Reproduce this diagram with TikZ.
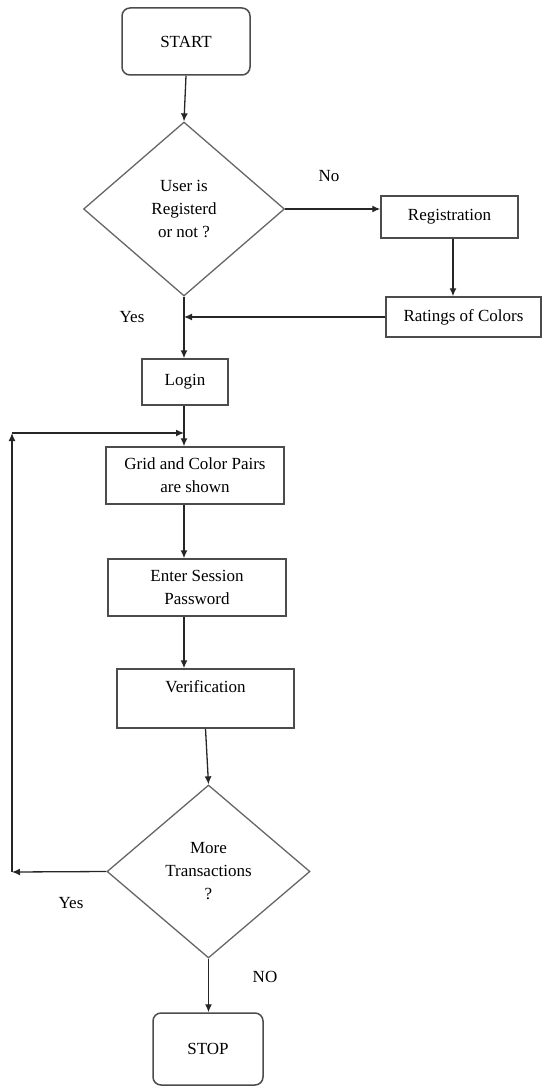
\documentclass[tikz,border=0pt]{standalone}
\usepackage{fontspec}
\setmainfont{Liberation Serif}
\usepackage{tikz}
\usetikzlibrary{shapes.geometric,arrows.meta}
\tikzset{
  font={\fontsize{17pt}{23pt}\selectfont}}
\tikzset{
  box/.style={draw=black!70,line width=1.5pt,inner sep=0pt,align=center},
  endbox/.style={box,rounded corners=8pt},
  ask/.style={draw=black!60,line width=1.3pt,diamond,inner sep=0pt,align=center},
  flow/.style={draw=black!85,line width=1.3pt,-{Latex[length=8pt,width=7pt]}},
  lbl/.style={inner sep=0pt}}

\begin{document}
\begin{tikzpicture}[x=1pt,y=-1pt]
\useasboundingbox (0,0) rectangle (542,1086);
\node [endbox,minimum width=128pt,minimum height=67pt] (start) at (186,41.5) {START};
\node [ask,minimum width=201pt,minimum height=174pt] (regd) at (184,209) {User is\\Registerd\\or not ?};
\node [box,minimum width=137pt,minimum height=42pt] (regn) at (449.5,217) {Registration};
\node [box,minimum width=155pt,minimum height=40pt] (rating) at (463.5,317) {Ratings of Colors};
\node [box,minimum width=86pt,minimum height=46pt] (login) at (185,382) {Login};
\node [box,minimum width=178pt,minimum height=57pt] (grid) at (195,475.5) {Grid and Color Pairs\\are shown};
\node [box,minimum width=178pt,minimum height=57pt] (sessn) at (197,587.5) {Enter Session\\Password};
\node [box,minimum width=177pt,minimum height=59pt] (verif) at (205.5,698.5) {Verification\\\mbox{}};
\node [ask,minimum width=203pt,minimum height=173pt] (more) at (208.5,871.5) {More\\Transactions\\?};
\node [endbox,minimum width=110pt,minimum height=72pt] (stop) at (208,1049) {STOP};
% labels
\node [lbl] (lno) at (329,176) {No};
\node [lbl] (lyes) at (132,317) {Yes};
\node [lbl] (lyes2) at (71,903) {Yes};
\node [lbl] (lstop) at (265,977) {NO};
% loop back
\coordinate (yesend) at (12,872);
\coordinate (loopup) at (12,433);
% arrows
\draw [flow] (start.south) -- (regd.north);
\draw [flow] (regd.east) -- (regd.east -| regn.west);
\draw [flow] ([xshift=3.5pt]regn.south) -- ([xshift=3.5pt]regn.south |- rating.north);
\draw [flow] (rating.west) -- (rating.west -| regd.south);
\draw [flow] (regd.south) -- (regd.south |- login.north);
\draw [flow] (regd.south |- login.south) -- (regd.south |- grid.north);
\draw [flow] (regd.south |- grid.south) -- (regd.south |- sessn.north);
\draw [flow] (regd.south |- sessn.south) -- (regd.south |- verif.north);
\draw [flow] (verif.south) -- (more.north);
\draw [flow] (more.south) -- (more.south |- stop.north);
\draw [flow] (more.west) -- (yesend);
\draw [flow] (yesend) -- (loopup);
\draw [flow] (loopup) -- (loopup -| regd.south);
\end{tikzpicture}
\end{document}
